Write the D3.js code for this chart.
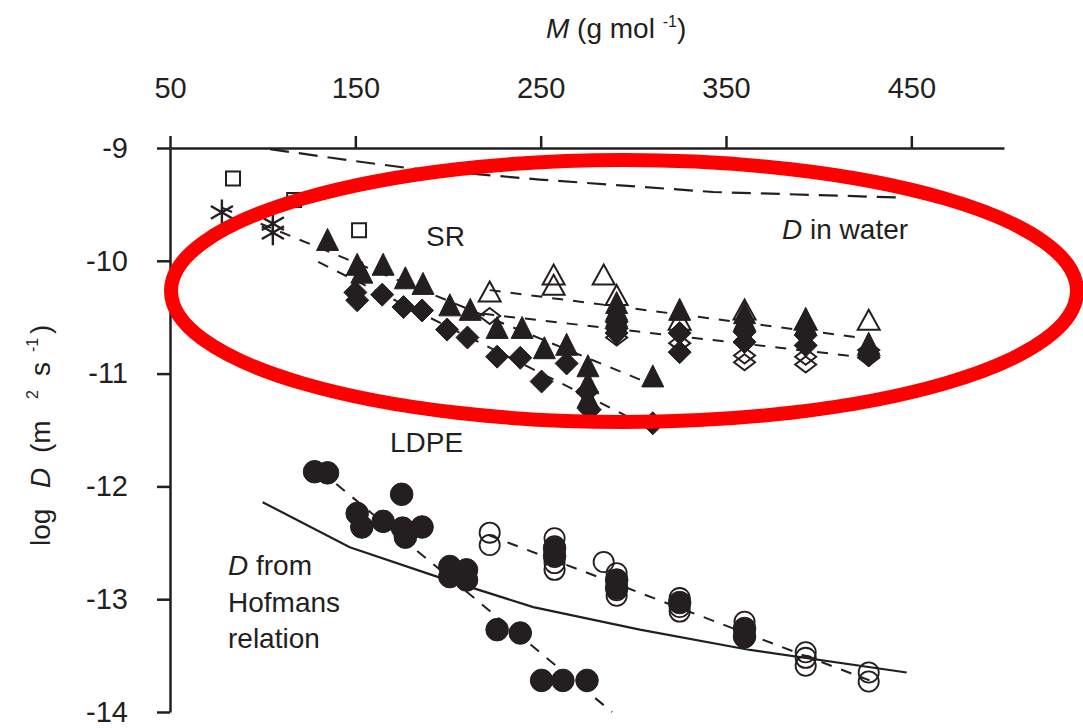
<!DOCTYPE html>
<html>
<head>
<meta charset="utf-8">
<script src="https://cdn.jsdelivr.net/npm/d3@7"></script>
<style>
body{margin:0;background:#fff;}
text{font-family:"Liberation Sans",Arial,sans-serif;fill:#231f20;}
</style>
</head>
<body>
<div id="chart"></div>
<script>
// axis ticks
var xTicks = [50, 150, 250, 350, 450];
var yTicks = [-9, -10, -11, -12, -13, -14];

// [M, log D]
var openSquares = [[84, -9.27], [117, -9.46], [152, -9.73]];
var asterisks = [[78, -9.57], [105.5, -9.67], [105.5, -9.75]];

var filledTriangles = [
  [135, -9.83], [151, -10.05], [153.5, -10.12], [165, -10.05], [177, -10.17], [186.5, -10.22],
  [201, -10.41], [212, -10.45], [226.5, -10.61], [240, -10.61], [252, -10.79], [264, -10.76],
  [275.5, -10.95], [275.5, -11.10], [275.5, -11.23], [310.5, -11.04],
  [291, -10.39], [291, -10.45], [291, -10.51], [325, -10.45], [360, -10.48], [360, -10.54],
  [393, -10.53], [393, -10.58], [427, -10.75]
];
var filledDiamonds = [
  [150, -10.28], [151, -10.35], [164.5, -10.30], [176, -10.41], [186, -10.44], [199.5, -10.61],
  [210.5, -10.68], [226.5, -10.85], [239, -10.86], [250.5, -11.07], [264, -10.91], [275, -11.16],
  [276.5, -11.32], [310.5, -11.44],
  [291, -10.54], [291, -10.60], [291, -10.64], [325, -10.64], [325, -10.81], [360, -10.63],
  [360, -10.72], [393, -10.66], [393, -10.75], [427, -10.84]
];
var openTriangles = [
  [222.5, -10.29], [257, -10.14], [257, -10.23], [284, -10.14], [291, -10.32], [325, -10.54],
  [360, -10.45], [393, -10.54], [427, -10.54]
];
var openDiamonds = [
  [222.5, -10.49], [291, -10.68], [325, -10.73], [360, -10.84], [360, -10.90],
  [393, -10.85], [393, -10.92], [427, -10.79], [427, -10.86]
];

var filledCircles = [
  [128, -11.87], [135, -11.88], [175, -12.07], [151, -12.24], [153.5, -12.36], [165, -12.31],
  [175.5, -12.37], [177, -12.45], [186, -12.36], [201, -12.71], [210, -12.74], [201, -12.80],
  [210, -12.83], [226.5, -13.27], [239, -13.30], [250.5, -13.72], [262, -13.72], [275, -13.72],
  [257.5, -12.55], [257.5, -12.62], [291, -12.83], [291, -12.90], [325, -13.03],
  [360, -13.26], [360, -13.33]
];
var openCircles = [
  [222.5, -12.41], [222.5, -12.52], [257.5, -12.46], [257.5, -12.53], [257.5, -12.61],
  [257.5, -12.68], [257.5, -12.74], [284, -12.67], [291, -12.77], [291, -12.83], [291, -12.92],
  [291, -12.97], [325, -12.99], [325, -13.07], [325, -13.11], [360, -13.20], [360, -13.27],
  [360, -13.34], [393, -13.47], [393, -13.52], [393, -13.59], [427, -13.65], [427, -13.73]
];

// lines
var waterLine = [[104, -9.01], [147, -9.11], [179.5, -9.18], [249.5, -9.28], [343, -9.39], [446, -9.44]];
var hofmansLine = [[100, -12.14], [147, -12.54], [194, -12.80], [246, -13.07], [303.5, -13.27], [363, -13.45], [447.5, -13.65]];
var srTriangleFit = [[78, -9.53], [310.5, -11.10]];
var srDiamondFit = [[130, -10.01], [311.5, -11.50]];
var openTriangleFit = [[222.5, -10.26], [422, -10.68]];
var openDiamondFit = [[219, -10.47], [421, -10.85]];
var ldpeFilledFit = [[131, -11.86], [288.5, -14.0]];
var ldpeOpenFit = [[221.5, -12.43], [427.5, -13.72]];

var ink = "#231f20";

var svg = d3.select("#chart").append("svg")
    .attr("width", 1083).attr("height", 728);

var x = d3.scaleLinear().domain([50, 500]).range([170, 1004]);
var y = d3.scaleLinear().domain([-9, -14]).range([148, 712]);

// axes
var gx = svg.append("g").attr("transform", "translate(0,148)")
    .call(d3.axisTop(x).tickValues(xTicks).tickSize(12).tickSizeOuter(0).tickPadding(38)
        .tickFormat(function(d){ return String(d); }));
var gy = svg.append("g").attr("transform", "translate(170,0)")
    .call(d3.axisLeft(y).tickValues(yTicks).tickSize(13).tickSizeOuter(0).tickPadding(29)
        .tickFormat(function(d){ return String(d); }));
[gx, gy].forEach(function(g){
    g.select(".domain").attr("stroke", ink).attr("stroke-width", 2.5);
    g.selectAll(".tick line").attr("stroke", ink).attr("stroke-width", 2.5);
    g.selectAll(".tick text").attr("fill", ink).style("font-size", "29px")
        .style("font-family", "'Liberation Sans', Arial, sans-serif");
});

// lines
var line = d3.line().x(function(d){ return x(d[0]); }).y(function(d){ return y(d[1]); });
function drawLine(data, dash, w){
    svg.append("path").datum(data).attr("d", line)
        .attr("fill", "none").attr("stroke", ink).attr("stroke-width", w)
        .attr("stroke-dasharray", dash);
}
drawLine(waterLine, "19,10", 2.2);
drawLine(hofmansLine, null, 2.2);
[srTriangleFit, srDiamondFit, openTriangleFit, openDiamondFit, ldpeFilledFit, ldpeOpenFit].forEach(function(d){
    drawLine(d, "11,10", 2);
});

// symbols
function triType(w, h){
    return {draw: function(ctx){
        ctx.moveTo(0, -h * 0.6); ctx.lineTo(w / 2, h * 0.4); ctx.lineTo(-w / 2, h * 0.4); ctx.closePath();
    }};
}
function diamondType(w, h){
    return {draw: function(ctx){
        ctx.moveTo(0, -h / 2); ctx.lineTo(w / 2, 0); ctx.lineTo(0, h / 2); ctx.lineTo(-w / 2, 0); ctx.closePath();
    }};
}
function plot(data, type, size, fill, sw){
    svg.append("g").selectAll("path").data(data).enter().append("path")
        .attr("d", d3.symbol().type(type).size(size))
        .attr("transform", function(d){ return "translate(" + x(d[0]) + "," + y(d[1]) + ")"; })
        .attr("fill", fill).attr("stroke", ink).attr("stroke-width", sw);
}

plot(openSquares, d3.symbolSquare, 196, "none", 2);
plot(asterisks, d3.symbolAsterisk || d3.symbolTimes, 460, "none", 2.4);
plot(openTriangles, triType(22, 20), 0, "none", 2);
plot(openDiamonds, diamondType(21, 16), 0, "none", 2);
plot(openCircles, d3.symbolCircle, 320, "none", 1.8);
plot(filledTriangles, triType(22, 22), 0, ink, 1);
plot(filledDiamonds, diamondType(23, 23), 0, ink, 1);
plot(filledCircles, d3.symbolCircle, 400, ink, 1);

// annotations
function label(t, px, py){
    return svg.append("text").attr("x", px).attr("y", py).style("font-size", "28px").text(t);
}
label("SR", 426, 246);
label("LDPE", 390, 452);
var dw = svg.append("text").attr("x", 782).attr("y", 239).style("font-size", "28px");
dw.append("tspan").style("font-style", "italic").text("D");
dw.append("tspan").text(" in water");
var hf = svg.append("text").attr("x", 228).attr("y", 575).style("font-size", "28px");
hf.append("tspan").style("font-style", "italic").text("D");
hf.append("tspan").text(" from");
label("Hofmans", 228, 612);
label("relation", 228, 648);

// top title
var tt = svg.append("text").attr("x", 546).attr("y", 38).style("font-size", "28px");
tt.append("tspan").style("font-style", "italic").text("M");
tt.append("tspan").text(" (g mol  ");
tt.append("tspan").attr("dy", -11).style("font-size", "16px").text("-1");
tt.append("tspan").attr("dy", 11).text(")");

// y title
var yl = svg.append("g").attr("transform", "translate(50,546) rotate(-90)");
yl.append("text").attr("x", 0).style("font-size", "28px").text("log");
yl.append("text").attr("x", 58).style("font-size", "28px").style("font-style", "italic").text("D");
yl.append("text").attr("x", 93).style("font-size", "28px").text("(m");
yl.append("text").attr("x", 147).attr("y", -12).style("font-size", "16px").text("2");
yl.append("text").attr("x", 170).style("font-size", "28px").text("s");
yl.append("text").attr("x", 194).attr("y", -12).style("font-size", "16px").text("-1");
yl.append("text").attr("x", 212).style("font-size", "28px").text(")");

// red highlight ellipse
svg.append("ellipse").attr("cx", 624).attr("cy", 291).attr("rx", 453).attr("ry", 131)
    .attr("fill", "none").attr("stroke", "#ff0000").attr("stroke-width", 14);
</script>
</body>
</html>
